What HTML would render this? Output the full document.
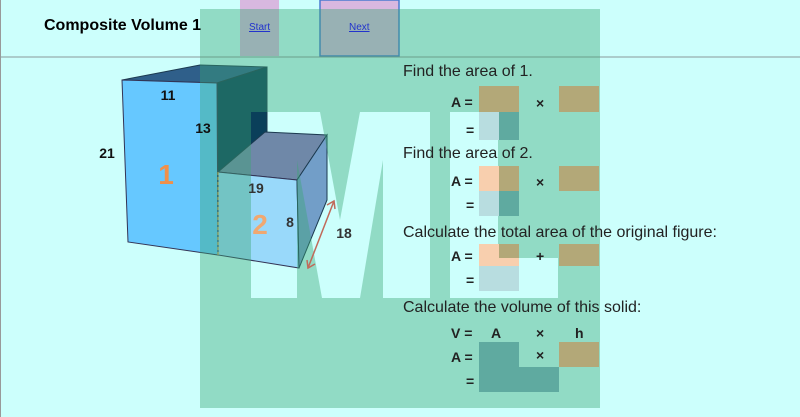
<!DOCTYPE html>
<html><head><style>
body{margin:0;width:800px;height:417px;overflow:hidden;background:#ccfffc;font-family:"Liberation Sans",sans-serif;position:relative}
.a{position:absolute}
.t{position:absolute;font-size:16px;color:#222;white-space:nowrap}
.b{position:absolute;font-weight:bold;font-size:14px;color:#222}
</style></head><body>
<svg class="a" style="left:0;top:0" width="800" height="417">
<defs>
<mask id="m">
<rect x="0" y="0" width="800" height="417" fill="#fff"/>
<polygon fill="#000" points="251,112 320,112 340,220 360,112 430,112 430,298 383,298 383,160 360,298 322,298 297,160 297,298 251,298"/>
<polygon fill="#000" points="450,112 498,112 498,258 558,258 558,298 450,298"/>
</mask>
</defs>
<rect x="0" y="0" width="1" height="417" fill="#999"/>
<rect x="240" y="0" width="39" height="56" fill="#d8b8e0"/>
<rect x="320" y="0" width="79" height="56" fill="#d8b8e0" stroke="#4a7ad0" stroke-width="1.5"/>
<line x1="0" y1="57" x2="800" y2="57" stroke="#8a9a9a" stroke-width="1"/>
<polygon points="122,80 200,65 267,67 217,83" fill="#2f5f8a" stroke="#1c3a50"/>
<polygon points="217,83 267,67 267,132 218,172" fill="#0a3f5a" stroke="#1c3a50"/>
<polygon points="122,80 217,83 218,255 128,242" fill="#66c8ff" stroke="#335"/>
<polygon points="218,172 265,132 327,135 297,180" fill="#6f88a8" stroke="#1c3a50"/>
<polygon points="218,172 297,180 299,268 218,255" fill="#99d9fa" stroke="#335"/>
<polygon points="297,180 327,135 327,200 299,268" fill="#729ec8" stroke="#1c3a50"/>
<line x1="218" y1="172" x2="218" y2="255" stroke="#d09a40" stroke-dasharray="3,2" stroke-width="1.2"/>
<rect x="200" y="9" width="400" height="399" fill="#3ba775" opacity="0.4" mask="url(#m)"/>
<g stroke="#c06a5a" stroke-width="1.5" fill="none">
<line x1="334" y1="201" x2="308" y2="268"/>
<polyline points="327,205 334,201 335,209"/>
<polyline points="307,260 308,268 315,264"/>
</g>
<g font-family="Liberation Sans" font-weight="bold" fill="#111">
<text x="168" y="100" font-size="14" text-anchor="middle">11</text>
<text x="203" y="133" font-size="14" text-anchor="middle">13</text>
<text x="107" y="158" font-size="14" text-anchor="middle">21</text>
<text x="256" y="193" font-size="14" text-anchor="middle" fill="#333">19</text>
<text x="290" y="227" font-size="14" text-anchor="middle" fill="#333">8</text>
<text x="344" y="238" font-size="14" text-anchor="middle" fill="#333">18</text>
<text x="166" y="184" font-size="28" text-anchor="middle" fill="#f0904a">1</text>
<text x="260" y="234" font-size="28" text-anchor="middle" fill="#f0a870">2</text>
</g>
<rect x="479" y="86" width="40" height="26" fill="#b3a878"/>
<rect x="559" y="86" width="40" height="26" fill="#b3a878"/>
<rect x="479" y="112" width="20" height="28" fill="#b8dde0"/>
<rect x="499" y="112" width="20" height="28" fill="#5faaa0"/>
<rect x="479" y="166" width="20" height="25" fill="#f8cfae"/>
<rect x="499" y="166" width="20" height="25" fill="#b3a878"/>
<rect x="559" y="166" width="40" height="25" fill="#b3a878"/>
<rect x="479" y="191" width="20" height="25" fill="#b8dde0"/>
<rect x="499" y="191" width="20" height="25" fill="#5faaa0"/>
<rect x="479" y="244" width="40" height="22" fill="#f8cfae"/>
<rect x="499" y="244" width="20" height="14" fill="#b3a878"/>
<rect x="559" y="244" width="40" height="22" fill="#b3a878"/>
<rect x="479" y="266" width="40" height="25" fill="#b8dde0"/>
<rect x="479" y="342" width="40" height="25" fill="#5faaa0"/>
<rect x="559" y="342" width="40" height="25" fill="#b3a878"/>
<rect x="479" y="367" width="80" height="25" fill="#5faaa0"/>
</svg>
<div class="a" style="left:44px;top:17px;font-weight:bold;font-size:16px;color:#000">Composite Volume 1</div>
<div class="a" style="left:249px;top:22px;font-size:10px;color:#2233cc;text-decoration:underline">Start</div>
<div class="a" style="left:349px;top:22px;font-size:10px;color:#2233cc;text-decoration:underline">Next</div>
<div class="t" style="left:403px;top:63px">Find the area of 1.</div>
<div class="b" style="left:451px;top:94px">A =</div><div class="b" style="left:536px;top:95px">×</div>
<div class="b" style="left:466px;top:122px">=</div>
<div class="t" style="left:403px;top:145px">Find the area of 2.</div>
<div class="b" style="left:451px;top:173px">A =</div><div class="b" style="left:536px;top:174px">×</div>
<div class="b" style="left:466px;top:197px">=</div>
<div class="t" style="left:403px;top:224px">Calculate the total area of the original figure:</div>
<div class="b" style="left:451px;top:248px">A =</div><div class="b" style="left:536px;top:248px">+</div>
<div class="b" style="left:466px;top:272px">=</div>
<div class="t" style="left:403px;top:299px">Calculate the volume of this solid:</div>
<div class="b" style="left:451px;top:325px">V =</div><div class="b" style="left:491px;top:325px">A</div><div class="b" style="left:536px;top:325px">×</div><div class="b" style="left:575px;top:325px">h</div>
<div class="b" style="left:451px;top:349px">A =</div><div class="b" style="left:536px;top:347px">×</div>
<div class="b" style="left:466px;top:373px">=</div>
</body></html>
